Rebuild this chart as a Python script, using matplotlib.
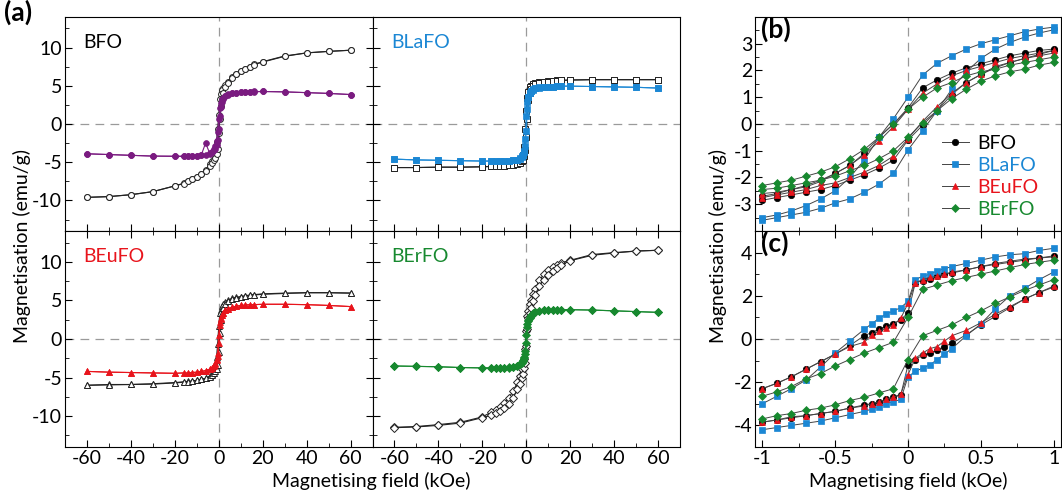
#!/usr/bin/env python3
"""
plot.py

Magnetisation loops of BFO and doped BFO samples: full loops (a),
low-field region of the corrected (b) and as-measured (c) loops.
"""

import matplotlib
matplotlib.use("Agg")
import matplotlib.pyplot as plt
from matplotlib.ticker import MultipleLocator

# --- panel (a): full loops, field in kOe -------------------------------
H_A_DOWN = [60, 50, 40, 30, 20, 16, 14, 12, 10, 8, 6, 4, 3, 2, 1.5, 1, 0.5, 0,
            -0.5, -1, -1.5, -2, -3, -4, -6, -8, -10, -12, -14, -16, -20, -30, -40, -50, -60]
H_A_UP = [-60, -50, -40, -30, -20, -16, -14, -12, -10, -8, -6, -4, -3, -2, -1.5, -1, -0.5, 0,
          0.5, 1, 1.5, 2, 3, 4, 6, 8, 10, 12, 14, 16, 20, 30, 40, 50, 60]

BFO_OPEN_DOWN = [9.65, 9.5, 9.3, 8.9, 8.15, 7.8, 7.5, 7.25, 6.95, 6.6, 6.15, 5.55, 5.15, 4.7, 4.4, 3.9, 3.3, 1.2,
                 -0.7, -2.3, -3.3, -4.0, -4.8, -5.3, -6.0, -6.5, -6.9, -7.2, -7.5, -7.75, -8.1, -8.85, -9.25, -9.5, -9.6]
BFO_OPEN_UP = [-9.6, -9.5, -9.25, -8.85, -8.1, -7.8, -7.5, -7.25, -6.95, -6.6, -6.15, -5.55, -5.15, -4.7, -4.4, -3.9, -3.3, -1.2,
               0.7, 2.4, 3.3, 4.0, 4.8, 5.3, 6.0, 6.5, 6.9, 7.2, 7.5, 7.75, 8.1, 8.85, 9.3, 9.5, 9.65]
BFO_FILL_DOWN = [3.85, 4.0, 4.1, 4.2, 4.25, 4.25, 4.2, 4.2, 4.15, 4.1, 4.0, 3.85, 3.7, 3.45, 3.25, 2.8, 2.15, 0.6,
                 -1.0, -2.2, -2.9, -3.3, -3.7, -3.9, -2.5, -4.1, -4.15, -4.2, -4.2, -4.2, -4.2, -4.2, -4.1, -4.0, -3.9]
BFO_FILL_UP = [-3.9, -4.0, -4.1, -4.2, -4.25, -4.25, -4.2, -4.2, -4.15, -4.1, -4.0, -3.85, -3.7, -3.45, -3.25, -2.8, -2.15, -0.6,
               1.0, 2.2, 2.9, 3.3, 3.7, 3.9, 4.05, 4.1, 4.15, 4.2, 4.2, 4.2, 4.25, 4.2, 4.1, 4.0, 3.85]

BLAFO_OPEN_DOWN = [5.8, 5.8, 5.8, 5.8, 5.75, 5.7, 5.7, 5.65, 5.6, 5.55, 5.45, 5.3, 5.2, 5.0, 4.8, 4.2, 3.4, 1.75,
                   -0.7, -3.0, -4.0, -4.5, -4.9, -5.1, -5.3, -5.4, -5.45, -5.5, -5.55, -5.55, -5.6, -5.65, -5.65, -5.7, -5.7]
BLAFO_OPEN_UP = [-5.7, -5.7, -5.65, -5.65, -5.6, -5.55, -5.55, -5.5, -5.45, -5.4, -5.35, -5.2, -5.1, -4.9, -4.7, -4.2, -3.4, -1.75,
                 0.7, 3.1, 4.1, 4.6, 5.0, 5.2, 5.4, 5.5, 5.55, 5.6, 5.65, 5.7, 5.75, 5.8, 5.8, 5.8, 5.8]
BLAFO_FILL_DOWN = [4.7, 4.8, 4.85, 4.9, 4.95, 4.95, 4.95, 4.9, 4.9, 4.85, 4.8, 4.65, 4.5, 4.25, 4.0, 3.5, 2.9, 1.0,
                   -1.9, -3.5, -4.0, -4.3, -4.55, -4.65, -4.75, -4.8, -4.85, -4.85, -4.85, -4.85, -4.85, -4.8, -4.75, -4.7, -4.6]
BLAFO_FILL_UP = [-4.6, -4.7, -4.75, -4.8, -4.85, -4.85, -4.85, -4.85, -4.85, -4.8, -4.75, -4.65, -4.5, -4.25, -4.0, -3.6, -2.9, -0.95,
                 1.9, 3.5, 4.0, 4.3, 4.55, 4.65, 4.75, 4.85, 4.9, 4.9, 4.95, 4.95, 4.95, 4.9, 4.85, 4.8, 4.7]

BEUFO_OPEN_DOWN = [5.95, 6.0, 6.0, 5.95, 5.85, 5.75, 5.7, 5.6, 5.5, 5.4, 5.25, 5.0, 4.8, 4.5, 4.25, 3.8, 3.35, 1.65,
                   -0.7, -2.3, -3.3, -3.9, -4.5, -4.8, -5.1, -5.25, -5.35, -5.45, -5.5, -5.55, -5.65, -5.8, -5.9, -5.9, -6.0]
BEUFO_OPEN_UP = [-6.0, -5.95, -5.9, -5.85, -5.7, -5.6, -5.55, -5.45, -5.35, -5.25, -5.1, -4.9, -4.7, -4.45, -4.2, -3.85, -3.35, -1.65,
                 0.75, 2.45, 3.4, 4.0, 4.6, 4.9, 5.2, 5.35, 5.45, 5.55, 5.65, 5.7, 5.8, 5.9, 6.0, 6.0, 5.95]
BEUFO_FILL_DOWN = [4.2, 4.35, 4.45, 4.5, 4.5, 4.45, 4.45, 4.4, 4.35, 4.25, 4.1, 3.9, 3.7, 3.35, 3.1, 2.75, 2.15, 0.55,
                   -1.85, -2.6, -3.1, -3.4, -3.75, -3.9, -4.1, -4.2, -4.3, -4.35, -4.4, -4.4, -4.45, -4.4, -4.35, -4.3, -4.2]
BEUFO_FILL_UP = [-4.2, -4.3, -4.35, -4.4, -4.45, -4.4, -4.4, -4.35, -4.3, -4.2, -4.1, -3.9, -3.75, -3.45, -3.2, -2.75, -2.2, -0.55,
                 1.85, 2.65, 3.1, 3.4, 3.75, 3.9, 4.1, 4.25, 4.35, 4.4, 4.45, 4.45, 4.5, 4.5, 4.45, 4.35, 4.2]

BERFO_OPEN_DOWN = [11.5, 11.4, 11.2, 10.95, 10.2, 9.9, 9.6, 9.3, 8.9, 8.4, 7.6, 6.5, 5.8, 5.0, 4.5, 3.65, 3.0, 1.0,
                   -1.3, -2.65, -3.3, -3.9, -4.8, -5.6, -6.8, -7.6, -8.3, -8.8, -9.2, -9.5, -10.1, -10.8, -11.1, -11.35, -11.45]
BERFO_OPEN_UP = [-11.5, -11.4, -11.2, -10.9, -10.2, -9.9, -9.6, -9.3, -8.9, -8.4, -7.6, -6.5, -5.8, -5.0, -4.5, -3.7, -3.05, -0.95,
                 1.3, 2.75, 3.4, 4.0, 4.9, 5.7, 6.9, 7.7, 8.35, 8.85, 9.25, 9.6, 10.15, 10.85, 11.15, 11.4, 11.5]
BERFO_FILL_DOWN = [3.45, 3.55, 3.65, 3.75, 3.8, 3.8, 3.8, 3.8, 3.75, 3.75, 3.65, 3.5, 3.35, 3.1, 2.85, 2.5, 1.9, 0.55,
                   -1.6, -2.3, -2.75, -3.0, -3.3, -3.45, -3.6, -3.65, -3.7, -3.75, -3.75, -3.75, -3.75, -3.7, -3.6, -3.55, -3.5]
BERFO_FILL_UP = [-3.5, -3.55, -3.6, -3.7, -3.75, -3.75, -3.75, -3.75, -3.7, -3.7, -3.6, -3.45, -3.3, -3.05, -2.8, -2.45, -1.95, -0.5,
                 1.6, 2.3, 2.75, 3.0, 3.3, 3.5, 3.65, 3.75, 3.75, 3.8, 3.8, 3.8, 3.8, 3.75, 3.65, 3.55, 3.45]

# --- panel (b): low-field part of the corrected loops --------------------
H_B_DOWN = [1.0, 0.9, 0.8, 0.7, 0.6, 0.5, 0.4, 0.3, 0.2, 0.1, 0.0,
            -0.1, -0.2, -0.3, -0.4, -0.5, -0.6, -0.7, -0.8, -0.9, -1.0]
H_B_UP = [-1.0, -0.9, -0.8, -0.7, -0.6, -0.5, -0.4, -0.3, -0.2, -0.1, 0.0,
          0.1, 0.2, 0.3, 0.4, 0.5, 0.6, 0.7, 0.8, 0.9, 1.0]

B_BFO_DOWN = [2.8, 2.75, 2.65, 2.55, 2.4, 2.25, 2.1, 1.9, 1.65, 1.35, 0.6,
              0.0, -0.5, -1.1, -1.55, -1.85, -2.1, -2.3, -2.45, -2.6, -2.7]
B_BFO_UP = [-2.85, -2.75, -2.65, -2.55, -2.45, -2.3, -2.1, -1.9, -1.65, -1.35, -0.6,
            -0.05, 0.5, 1.1, 1.55, 1.85, 2.1, 2.3, 2.45, 2.6, 2.75]
B_BLAFO_DOWN = [3.62, 3.55, 3.45, 3.3, 3.15, 3.0, 2.8, 2.55, 2.27, 1.83, 1.0,
                0.2, -0.5, -1.35, -2.0, -2.5, -2.8, -3.05, -3.25, -3.4, -3.5]
B_BLAFO_UP = [-3.6, -3.5, -3.4, -3.3, -3.15, -2.95, -2.8, -2.55, -2.25, -1.85, -0.97,
              -0.25, 0.5, 1.3, 1.95, 2.45, 2.8, 3.05, 3.25, 3.4, 3.52]
B_BEUFO_DOWN = [2.75, 2.65, 2.55, 2.45, 2.3, 2.15, 2.0, 1.8, 1.5, 1.15, 0.55,
                -0.1, -0.65, -1.15, -1.55, -1.85, -2.15, -2.35, -2.45, -2.55, -2.6]
B_BEUFO_UP = [-2.75, -2.65, -2.55, -2.45, -2.3, -2.2, -2.0, -1.8, -1.55, -1.2, -0.55,
              0.1, 0.65, 1.15, 1.55, 1.85, 2.15, 2.3, 2.45, 2.55, 2.65]
B_BERFO_DOWN = [2.5, 2.4, 2.3, 2.2, 2.05, 1.95, 1.8, 1.55, 1.35, 1.0, 0.55,
                0.0, -0.5, -0.95, -1.3, -1.6, -1.8, -1.95, -2.1, -2.2, -2.3]
B_BERFO_UP = [-2.45, -2.4, -2.3, -2.2, -2.1, -1.95, -1.75, -1.55, -1.3, -1.0, -0.5,
              0.05, 0.5, 0.95, 1.3, 1.6, 1.8, 1.95, 2.05, 2.2, 2.3]

# --- panel (c): low-field part of the as-measured loops ------------------
H_C_DOWN = [1.0, 0.9, 0.8, 0.7, 0.6, 0.5, 0.4, 0.3, 0.25, 0.2, 0.15, 0.1, 0.05, 0.0,
            -0.05, -0.1, -0.15, -0.2, -0.25, -0.3, -0.4, -0.5, -0.6, -0.7, -0.8, -0.9, -1.0]
H_C_UP = [-1.0, -0.9, -0.8, -0.7, -0.6, -0.5, -0.4, -0.3, -0.25, -0.2, -0.15, -0.1, -0.05, 0.0,
          0.05, 0.1, 0.15, 0.2, 0.25, 0.3, 0.4, 0.5, 0.6, 0.7, 0.8, 0.9, 1.0]

C_BFO_DOWN = [3.85, 3.75, 3.65, 3.55, 3.45, 3.35, 3.2, 3.05, 3.0, 2.9, 2.8, 2.7, 2.6, 1.2,
              0.9, 0.7, 0.6, 0.45, 0.3, 0.15, -0.3, -0.7, -1.05, -1.4, -1.75, -2.05, -2.3]
C_BFO_UP = [-3.85, -3.75, -3.65, -3.55, -3.45, -3.35, -3.2, -3.05, -3.0, -2.9, -2.8, -2.7, -2.6, -1.2,
            -0.95, -0.75, -0.65, -0.5, -0.35, -0.2, 0.2, 0.65, 1.05, 1.45, 1.85, 2.15, 2.4]
C_BLAFO_DOWN = [4.2, 4.1, 3.95, 3.9, 3.8, 3.65, 3.5, 3.35, 3.25, 3.15, 3.0, 2.9, 2.75, 1.75,
                1.45, 1.3, 1.15, 0.95, 0.7, 0.45, -0.1, -0.65, -1.3, -1.9, -2.3, -2.65, -3.0]
C_BLAFO_UP = [-4.2, -4.1, -4.0, -3.9, -3.8, -3.65, -3.5, -3.35, -3.25, -3.15, -3.0, -2.9, -2.8, -1.75,
              -1.5, -1.35, -1.2, -0.95, -0.7, -0.45, 0.15, 0.7, 1.4, 2.0, 2.35, 2.75, 3.1]
C_BEUFO_DOWN = [3.8, 3.75, 3.7, 3.6, 3.5, 3.35, 3.2, 3.1, 3.0, 2.9, 2.85, 2.75, 2.6, 1.65,
                0.95, 0.65, 0.5, 0.35, 0.2, -0.15, -0.35, -0.7, -1.05, -1.4, -1.75, -2.05, -2.3]
C_BEUFO_UP = [-3.85, -3.75, -3.6, -3.55, -3.45, -3.35, -3.2, -3.1, -3.0, -2.9, -2.8, -2.7, -2.55, -1.65,
              -0.9, -0.65, -0.45, -0.35, -0.1, 0.15, 0.4, 0.75, 1.15, 1.5, 1.85, 2.15, 2.45]
C_BERFO_DOWN = [3.65, 3.55, 3.45, 3.3, 3.15, 3.0, 2.85, 2.7, 2.5, 2.3, 1.0,
                -0.15, -0.4, -0.65, -0.95, -1.25, -1.6, -1.85, -2.2, -2.45, -2.65]
C_BERFO_UP = [-3.7, -3.55, -3.45, -3.3, -3.2, -3.05, -2.85, -2.7, -2.5, -2.3, -0.95,
              0.15, 0.4, 0.65, 1.0, 1.3, 1.65, 1.95, 2.25, 2.5, 2.75]

SAMPLES = ["BFO", "BLaFO", "BEuFO", "BErFO"]
COLORS = {"BFO": "#000000", "BLaFO": "#1b87d4", "BEuFO": "#e8141c", "BErFO": "#17892f"}
FILL_COLORS = {"BFO": "#7a1b80", "BLaFO": "#1b87d4", "BEuFO": "#e8141c", "BErFO": "#17892f"}
MARKERS = {"BFO": "o", "BLaFO": "s", "BEuFO": "^", "BErFO": "D"}

plt.rcParams["font.family"] = ["Lato", "DejaVu Sans"]
plt.rcParams["axes.unicode_minus"] = False
plt.rcParams["font.size"] = 14

DASH = (0, (7, 5))
ZERO_COLOR = "#9a9a9a"
FS = 14


def zero_lines(ax):
    ax.axhline(0, color=ZERO_COLOR, lw=0.9, ls=DASH, zorder=1)
    ax.axvline(0, color=ZERO_COLOR, lw=0.9, ls=DASH, zorder=1)


def main():
    fig = plt.figure(figsize=(10.62, 4.92), dpi=100)

    # panel (a) grid
    x0, w = 65 / 1062, 307.5 / 1062
    ytop, htop = 0.5305, 0.435
    ybot, hbot = 0.0915, 0.439
    pos = {
        "BFO": [x0, ytop, w, htop],
        "BLaFO": [x0 + w, ytop, w, htop],
        "BEuFO": [x0, ybot, w, hbot],
        "BErFO": [x0 + w, ybot, w, hbot],
    }
    data_a = {
        "BFO": (BFO_OPEN_DOWN, BFO_OPEN_UP, BFO_FILL_DOWN, BFO_FILL_UP),
        "BLaFO": (BLAFO_OPEN_DOWN, BLAFO_OPEN_UP, BLAFO_FILL_DOWN, BLAFO_FILL_UP),
        "BEuFO": (BEUFO_OPEN_DOWN, BEUFO_OPEN_UP, BEUFO_FILL_DOWN, BEUFO_FILL_UP),
        "BErFO": (BERFO_OPEN_DOWN, BERFO_OPEN_UP, BERFO_FILL_DOWN, BERFO_FILL_UP),
    }
    for i, s in enumerate(SAMPLES):
        ax = fig.add_axes(pos[s])
        zero_lines(ax)
        od, ou, fd, fu = data_a[s]
        m = MARKERS[s]
        ms = 3.6 if m == "D" else 4.2
        for h, v in ((H_A_DOWN, od), (H_A_UP, ou)):
            ax.plot(h, v, color="#222222", lw=0.8, marker=m, ms=ms, mfc="white",
                    mec="#222222", mew=0.7, zorder=2)
        for h, v in ((H_A_DOWN, fd), (H_A_UP, fu)):
            ax.plot(h, v, color=FILL_COLORS[s], lw=0.8, marker=m, ms=ms,
                    mfc=FILL_COLORS[s], mec=FILL_COLORS[s], mew=0.5, zorder=3)
        ax.set_xlim(-70, 70)
        ax.set_ylim(-14, 14)
        ax.xaxis.set_major_locator(MultipleLocator(20))
        ax.xaxis.set_minor_locator(MultipleLocator(10))
        ax.yaxis.set_major_locator(MultipleLocator(5))
        ax.yaxis.set_minor_locator(MultipleLocator(2.5))
        top_row = i < 2
        left_col = i % 2 == 0
        ax.tick_params(which="both", direction="in", top=not top_row, right=left_col,
                       left=True, bottom=True, labelleft=left_col, labelbottom=not top_row,
                       labelsize=FS, pad=2)
        ax.tick_params(which="major", length=5)
        ax.tick_params(which="minor", length=3)
        ax.text(0.06, 0.88, s, transform=ax.transAxes,
                color=FILL_COLORS[s] if s != "BFO" else "black",
                fontsize=FS, va="center", ha="left")

    fig.text(0.021, 0.5, "Magnetisation (emu/g)", rotation=90, ha="center", va="center", fontsize=FS)
    fig.text(0.35, 0.022, "Magnetising field (kOe)", ha="center", va="center", fontsize=FS)
    fig.text(0.004, 1.0, "(a)", ha="left", va="top", fontsize=19, fontweight="bold")

    # panels (b) and (c)
    bx0, bw = 755 / 1062, 306 / 1062
    ax_b = fig.add_axes([bx0, ytop, bw, htop])
    ax_c = fig.add_axes([bx0, ybot, bw, hbot])

    data_b = {
        "BFO": (B_BFO_DOWN, B_BFO_UP),
        "BLaFO": (B_BLAFO_DOWN, B_BLAFO_UP),
        "BEuFO": (B_BEUFO_DOWN, B_BEUFO_UP),
        "BErFO": (B_BERFO_DOWN, B_BERFO_UP),
    }
    data_c = {
        "BFO": (H_C_DOWN, C_BFO_DOWN, H_C_UP, C_BFO_UP),
        "BLaFO": (H_C_DOWN, C_BLAFO_DOWN, H_C_UP, C_BLAFO_UP),
        "BEuFO": (H_C_DOWN, C_BEUFO_DOWN, H_C_UP, C_BEUFO_UP),
        "BErFO": (H_B_DOWN, C_BERFO_DOWN, H_B_UP, C_BERFO_UP),
    }
    for s in SAMPLES:
        m = MARKERS[s]
        ms = 4.2 if m == "D" else 4.6
        style = dict(color="#444444", lw=0.7, marker=m, ms=ms, mfc=COLORS[s],
                     mec=COLORS[s], mew=0.5)
        down, up = data_b[s]
        ax_b.plot(H_B_DOWN, down, label=s, **style)
        ax_b.plot(H_B_UP, up, **style)
        hd, vd, hu, vu = data_c[s]
        ax_c.plot(hd, vd, **style)
        ax_c.plot(hu, vu, **style)

    for ax in (ax_b, ax_c):
        zero_lines(ax)
        ax.set_xlim(-1.05, 1.05)
        ax.xaxis.set_major_locator(MultipleLocator(0.5))
        ax.xaxis.set_minor_locator(MultipleLocator(0.25))
        ax.tick_params(which="both", direction="in", right=False, labelsize=FS, pad=2)
        ax.tick_params(which="major", length=5)
        ax.tick_params(which="minor", length=3)
    ax_b.set_ylim(-4, 4)
    ax_b.set_yticks([-3, -2, -1, 0, 1, 2, 3])
    ax_b.yaxis.set_minor_locator(MultipleLocator(0.5))
    ax_b.tick_params(labelbottom=False)
    ax_c.set_ylim(-5, 5)
    ax_c.set_yticks([-4, -2, 0, 2, 4])
    ax_c.yaxis.set_minor_locator(MultipleLocator(1))
    ax_c.tick_params(which="both", top=True)
    ax_c.set_xticks([-1, -0.5, 0, 0.5, 1])
    ax_c.set_xticklabels(["-1", "-0.5", "0", "0.5", "1"])

    leg = ax_b.legend(loc="upper left", bbox_to_anchor=(0.585, 0.485), frameon=False,
                      fontsize=FS, handlelength=1.4, handletextpad=0.4, labelspacing=0.25,
                      borderaxespad=0.0)
    for txt, s in zip(leg.get_texts(), SAMPLES):
        txt.set_color(COLORS[s])

    ax_b.text(0.02, 1.0, "(b)", transform=ax_b.transAxes, ha="left", va="top",
              fontsize=19, fontweight="bold")
    ax_c.text(0.02, 1.0, "(c)", transform=ax_c.transAxes, ha="left", va="top",
              fontsize=19, fontweight="bold")

    fig.text(0.676, 0.5, "Magnetisation (emu/g)", rotation=90, ha="center", va="center", fontsize=FS)
    fig.text(0.855, 0.022, "Magnetising field (kOe)", ha="center", va="center", fontsize=FS)

    fig.savefig("out.png", dpi=100)


if __name__ == "__main__":
    main()
